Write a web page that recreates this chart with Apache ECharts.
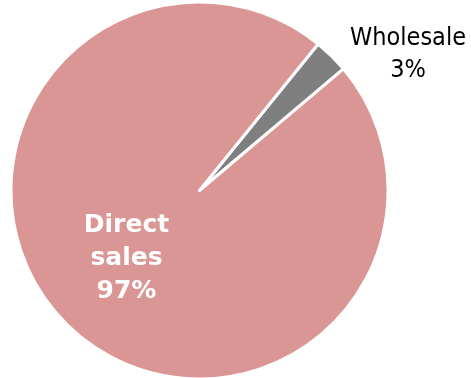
<!DOCTYPE html>
<html>
<head>
<meta charset="utf-8">
<style>
  html, body { margin: 0; padding: 0; background: #ffffff; }
  #chart { width: 471px; height: 378px; }
</style>
<script src="https://cdn.jsdelivr.net/npm/echarts@6/dist/echarts.min.js"></script>
</head>
<body>
<div id="chart"></div>
<script>
// Sales channel split (percent)
const categories = ['Wholesale', 'Direct sales'];
const shares = [3, 97];
const colors = ['#7F7F7F', '#D99694'];

const chart = echarts.init(document.getElementById('chart'), null, { renderer: 'canvas' });

const data = categories.map((name, i) => ({
  name: name,
  value: shares[i],
  itemStyle: { color: colors[i] }
}));

// Wholesale label sits outside, top-right; direct sales label sits inside the slice
data[0].label = {
  position: 'outside',
  color: '#000000',
  fontFamily: '"DejaVu Sans Condensed", "DejaVu Sans"',
  fontWeight: 'normal',
  fontSize: 25,
  lineHeight: 32,
  align: 'center'
};
data[0].labelLine = { show: false };
data[1].label = {
  position: 'inside',
  color: '#ffffff',
  fontFamily: '"DejaVu Sans"',
  fontWeight: 'bold',
  fontSize: 25,
  lineHeight: 33,
  align: 'center'
};

chart.setOption({
  animation: false,
  backgroundColor: '#ffffff',
  series: [{
    type: 'pie',
    center: [199.5, 190.5],
    radius: 188.5,
    startAngle: 51,
    clockwise: true,
    avoidLabelOverlap: false,
    itemStyle: { borderColor: '#ffffff', borderWidth: 3 },
    label: {
      formatter: function (p) {
        return p.name.replace(' ', '\n') + '\n' + p.value + '%';
      }
    },
    labelLayout: function (p) {
      if (p.dataIndex === 0) {
        return { x: 408, y: 54, align: 'center', verticalAlign: 'middle' };
      }
      return { align: 'center', verticalAlign: 'middle', dx: -5, dy: -1 };
    },
    data: data
  }]
});
</script>
</body>
</html>
